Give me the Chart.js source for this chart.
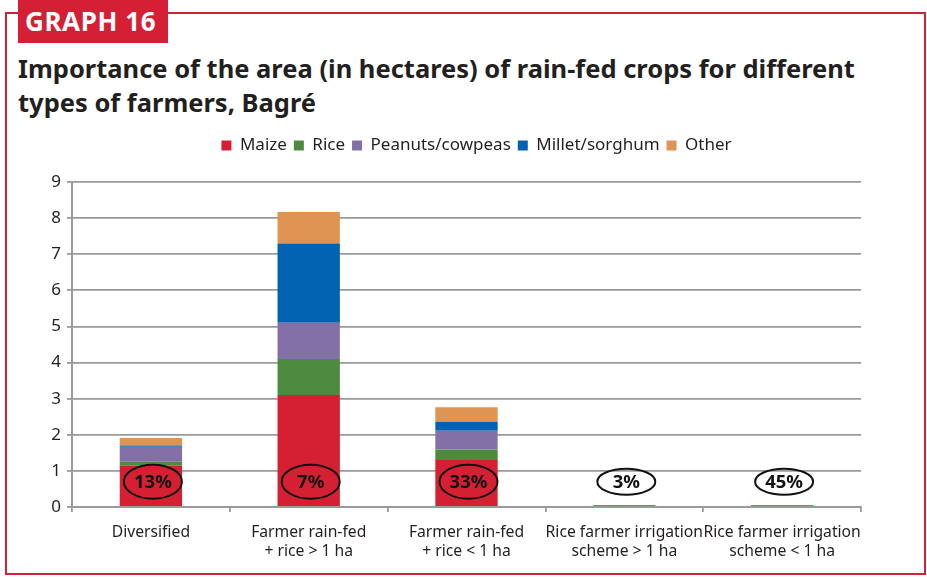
<!DOCTYPE html>
<html lang="en">
<head>
    <meta charset="UTF-8">
    <title>Graph 16</title>
    <script src="https://cdn.jsdelivr.net/npm/chart.js"></script>
    <style>
        body {
            margin: 0;
            background: #fff;
            font-family: "Noto Sans", sans-serif;
        }
        .frame {
            position: absolute;
            left: 5px; top: 12px;
            width: 921px; height: 563px;
            box-sizing: border-box;
            border: 2px solid #d41f35;
        }
        .badge {
            position: absolute;
            left: 18px; top: 0;
            width: 150px; height: 43px;
            background: #d41f35;
            color: #fff;
            font-weight: bold;
            font-size: 26px;
            letter-spacing: 0.6px;
            line-height: 43px;
            padding-left: 7px;
            box-sizing: border-box;
        }
        .title {
            position: absolute;
            left: 18px; top: 51px;
            margin: 0;
            font-size: 25.5px;
            line-height: 34px;
            font-weight: bold;
            color: #231f20;
        }
        .chart-box {
            position: absolute;
            left: 8px; top: 130px;
            width: 905px; height: 442px;
        }
    </style>
</head>
<body>
    <div class="frame"></div>
    <div class="badge">GRAPH 16</div>
    <h1 class="title">Importance of the area (in hectares) of rain-fed crops for different<br>types of farmers, Bagré</h1>
    <div class="chart-box"><canvas id="chart"></canvas></div>

    <script>
        const categories = [
            "Diversified",
            ["Farmer rain-fed", "+ rice > 1 ha"],
            ["Farmer rain-fed", "+ rice < 1 ha"],
            ["Rice farmer irrigation", "scheme > 1 ha"],
            ["Rice farmer irrigation", "scheme < 1 ha"]
        ];
        const maize   = [1.14, 3.1, 1.3, 0.05, 0.05];
        const rice    = [0.11, 1.0, 0.29, 0, 0];
        const peanuts = [0.42, 1.0, 0.52, 0, 0];
        const millet  = [0.03, 2.2, 0.25, 0, 0];
        const other   = [0.21, 0.87, 0.40, 0, 0];
        const shares  = ["13%", "7%", "33%", "3%", "45%"];

        // circled percentage labels at the foot of each bar
        const shareLabels = {
            id: "shareLabels",
            afterDatasetsDraw(chart) {
                const { ctx, scales: { x, y } } = chart;
                const cy = y.getPixelForValue(0.7);
                ctx.save();
                shares.forEach((s, i) => {
                    const cx = x.getPixelForValue(i) + 2;
                    const ry = i < 3 ? 17 : 13;
                    ctx.beginPath();
                    ctx.ellipse(cx, cy, 29, ry, 0, 0, Math.PI * 2);
                    ctx.lineWidth = 2;
                    ctx.strokeStyle = "#111";
                    ctx.stroke();
                    ctx.fillStyle = "#111";
                    ctx.font = "bold 18.5px 'Noto Sans'";
                    ctx.textAlign = "center";
                    ctx.textBaseline = "middle";
                    ctx.fillText(s, cx, cy + 1);
                });
                ctx.restore();
            }
        };

        // extra room under the legend, and legend nudged right like the original
        const legendTweak = {
            id: "legendTweak",
            beforeInit(chart) {
                const fit = chart.legend.fit;
                chart.legend.fit = function () {
                    fit.bind(chart.legend)();
                    this.height += 18;
                };
            },
            afterLayout(chart) {
                chart.legend.left += 42;
                chart.legend.right += 42;
            }
        };

        const ds = (label, data, color) => ({ label, data, backgroundColor: color, borderWidth: 0 });

        new Chart(document.getElementById("chart"), {
            type: "bar",
            data: {
                labels: categories,
                datasets: [
                    ds("Maize", maize, "#d42032"),
                    ds("Rice", rice, "#4f8b3f"),
                    ds("Peanuts/cowpeas", peanuts, "#8270a6"),
                    ds("Millet/sorghum", millet, "#0062b0"),
                    ds("Other", other, "#e09453")
                ]
            },
            options: {
                responsive: true,
                maintainAspectRatio: false,
                animation: false,
                datasets: { bar: { barPercentage: 0.395, categoryPercentage: 1 } },
                layout: { padding: { left: 0, right: 52, top: 0, bottom: 0 } },
                plugins: {
                    legend: {
                        position: "top",
                        labels: {
                            boxWidth: 10, boxHeight: 10, padding: 7,
                            color: "#231f20",
                            font: { family: "'Noto Sans'", size: 17 }
                        }
                    },
                    tooltip: { enabled: false }
                },
                scales: {
                    x: {
                        stacked: true,
                        afterFit: s => { s.height = 65; },
                        grid: { drawOnChartArea: false, tickLength: 5, color: "#9a9a9a", lineWidth: 1.8 },
                        border: { color: "#9a9a9a", width: 2 },
                        ticks: {
                            color: "#231f20", padding: 11, maxRotation: 0, autoSkip: false,
                            font: { family: "'Noto Sans'", size: 15.7 }
                        }
                    },
                    y: {
                        stacked: true,
                        min: 0, max: 9,
                        afterFit: s => { s.width = 64; },
                        grid: { color: "#9a9a9a", lineWidth: 1.8, tickLength: 5 },
                        border: { color: "#9a9a9a", width: 2 },
                        ticks: { stepSize: 1, color: "#231f20", padding: 6, font: { family: "'Noto Sans'", size: 17 } }
                    }
                }
            },
            plugins: [shareLabels, legendTweak]
        });
    </script>
</body>
</html>
